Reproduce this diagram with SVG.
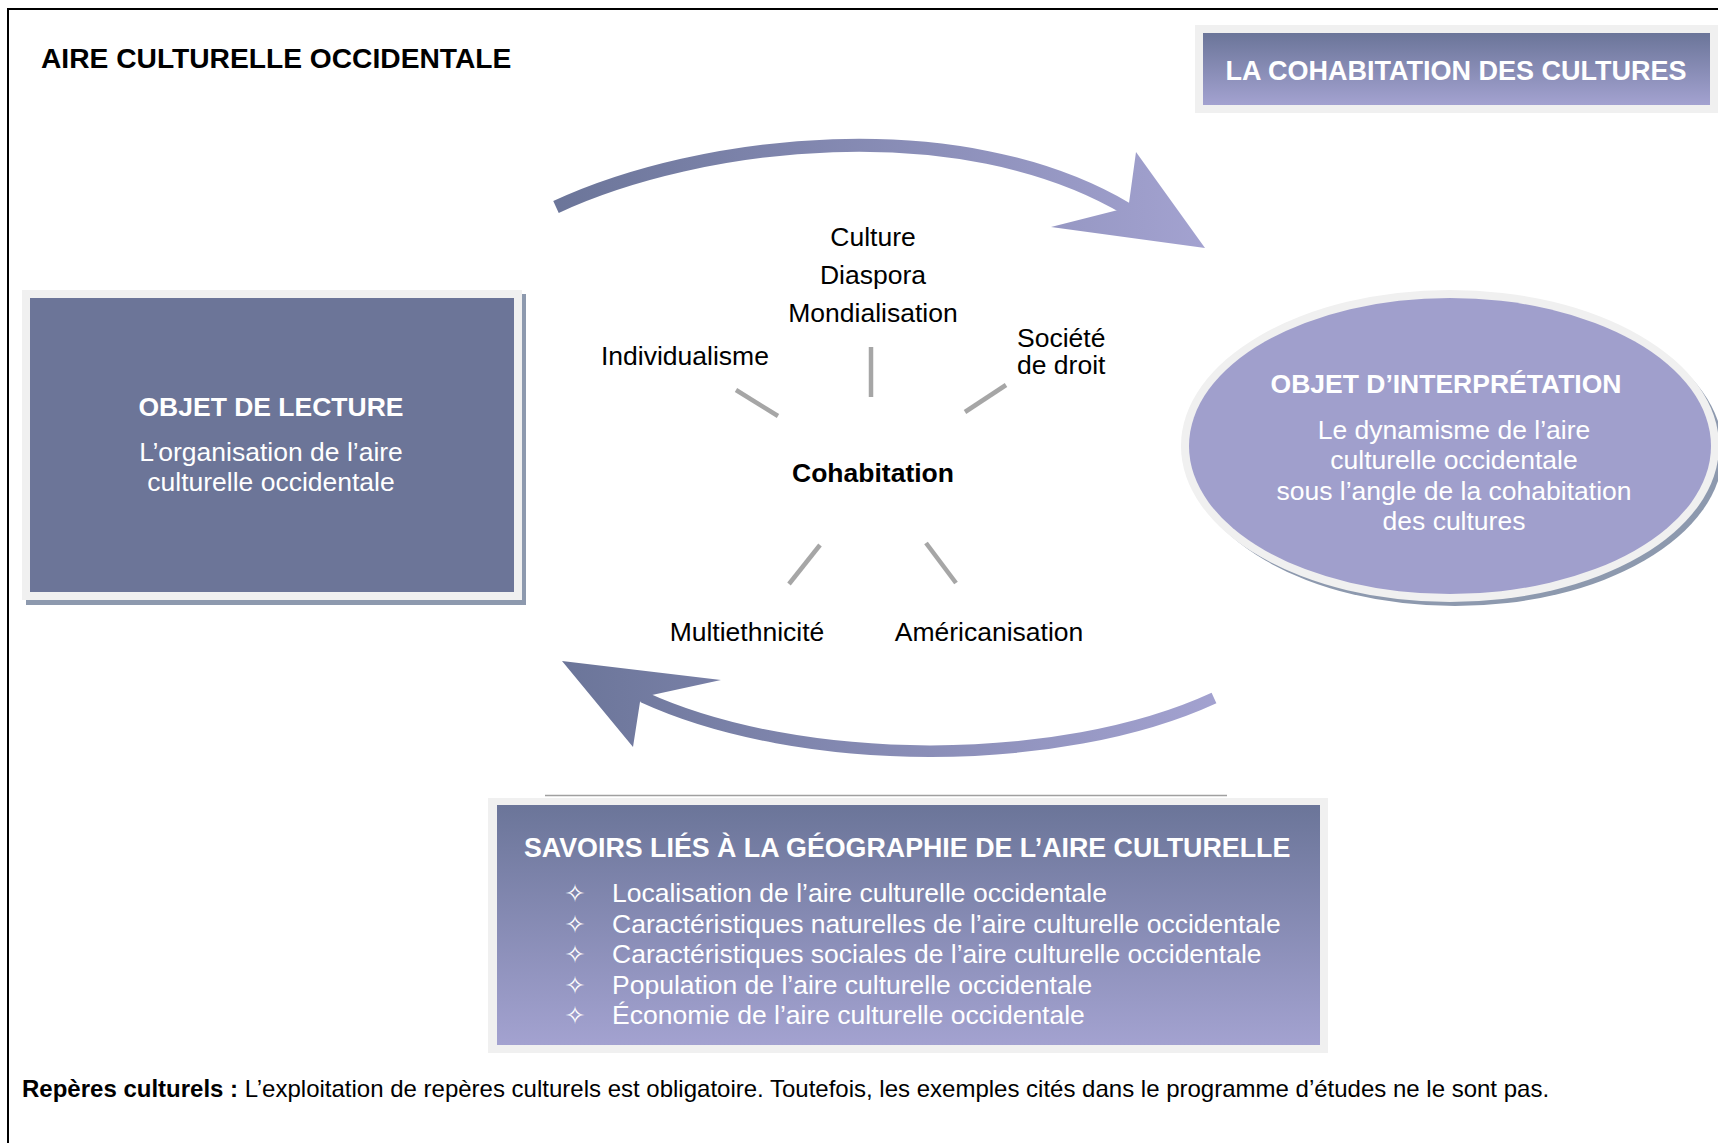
<svg xmlns="http://www.w3.org/2000/svg" width="1718" height="1143" viewBox="0 0 1718 1143">
<style>
text{font-family:"Liberation Sans",Arial,sans-serif;}
.t{font-size:28.2px;font-weight:bold;fill:#000;}
.hw{font-size:26.5px;font-weight:bold;fill:#fff;}
.bw{font-size:26.5px;fill:#fff;}
.kw{font-size:26.5px;fill:#000;}
.kb{font-size:26.5px;font-weight:bold;fill:#000;}
.spoke{stroke:#a6a6a6;stroke-width:4.5;fill:none;}
.frame{fill:#f0f0f0;}
.star{font-family:"DejaVu Sans",sans-serif;font-size:25px;fill:#fff;}
.foot{font-size:24px;fill:#000;}
</style>
<defs>
<linearGradient id="gv" x1="0" y1="0" x2="0" y2="1">
<stop offset="0" stop-color="#6b7599"/>
<stop offset="1" stop-color="#a3a2d0"/>
</linearGradient>
<linearGradient id="gTop" gradientUnits="userSpaceOnUse" x1="550" y1="0" x2="1205" y2="0">
<stop offset="0" stop-color="#6b7599"/>
<stop offset="1" stop-color="#a3a2d0"/>
</linearGradient>
<linearGradient id="gBot" gradientUnits="userSpaceOnUse" x1="560" y1="0" x2="1220" y2="0">
<stop offset="0" stop-color="#6b7599"/>
<stop offset="1" stop-color="#a3a2d0"/>
</linearGradient>
</defs>
<rect width="1718" height="1143" fill="#fff"/>
<path d="M8,1143 V9 H1718" fill="none" stroke="#000" stroke-width="2"/>

<g id="title">
<text class="t" x="41" y="68">AIRE CULTURELLE OCCIDENTALE</text>
</g>

<g id="node-cohabitation-cultures">
<rect class="frame" x="1195" y="25" width="523" height="88"/>
<rect x="1203" y="33" width="507" height="72" fill="url(#gv)"/>
<text class="hw" x="1456" y="80" text-anchor="middle" style="font-size:27px">LA COHABITATION DES CULTURES</text>
</g>

<g id="node-objet-lecture">
<rect x="26" y="294" width="500" height="311" fill="#8d99ae"/>
<rect class="frame" x="22" y="290" width="500" height="310"/>
<rect x="30" y="298" width="484" height="294" fill="#6c7598"/>
<text class="hw" x="271" y="416" text-anchor="middle">OBJET DE LECTURE</text>
<text class="bw" x="271" y="461" text-anchor="middle">L’organisation de l’aire</text>
<text class="bw" x="271" y="491" text-anchor="middle">culturelle occidentale</text>
</g>

<g id="node-objet-interpretation">
<ellipse cx="1455" cy="451" rx="268" ry="155" fill="#8d99ae"/>
<ellipse cx="1450" cy="446" rx="269" ry="156" fill="#f0f0f0"/>
<ellipse cx="1450" cy="446" rx="261" ry="148" fill="#a09fcc"/>
<text class="hw" x="1446" y="393" text-anchor="middle">OBJET D’INTERPRÉTATION</text>
<text class="bw" x="1454" y="439" text-anchor="middle">Le dynamisme de l’aire</text>
<text class="bw" x="1454" y="469" text-anchor="middle">culturelle occidentale</text>
<text class="bw" x="1454" y="500" text-anchor="middle">sous l’angle de la cohabitation</text>
<text class="bw" x="1454" y="530" text-anchor="middle">des cultures</text>
</g>

<g id="node-cohabitation">
<text class="kb" x="873" y="482" text-anchor="middle">Cohabitation</text>
</g>
<g id="node-culture-diaspora-mondialisation">
<text class="kw" x="873" y="246" text-anchor="middle">Culture</text>
<text class="kw" x="873" y="284" text-anchor="middle">Diaspora</text>
<text class="kw" x="873" y="322" text-anchor="middle">Mondialisation</text>
</g>
<g id="node-individualisme">
<text class="kw" x="601" y="365">Individualisme</text>
</g>
<g id="node-societe-de-droit">
<text class="kw" x="1017" y="347">Société</text>
<text class="kw" x="1017" y="374">de droit</text>
</g>
<g id="node-multiethnicite">
<text class="kw" x="747" y="641" text-anchor="middle">Multiethnicité</text>
</g>
<g id="node-americanisation">
<text class="kw" x="989" y="641" text-anchor="middle">Américanisation</text>
</g>

<g id="connectors">
<line class="spoke" x1="871" y1="347" x2="871" y2="397"/>
<line class="spoke" x1="736" y1="390" x2="778" y2="416"/>
<line class="spoke" x1="1006" y1="385" x2="965" y2="412"/>
<line class="spoke" x1="820" y1="545" x2="789" y2="584"/>
<line class="spoke" x1="926" y1="543" x2="956" y2="583"/>
<path d="M556,207 C700,140 960,110 1127,209" fill="none" stroke="url(#gTop)" stroke-width="13"/>
<polygon points="1205,248 1136,152 1129,203 1118,210 1051,227" fill="url(#gTop)"/>
<path d="M1214,698 C1060,769 800,769 643,697" fill="none" stroke="url(#gBot)" stroke-width="11.5"/>
<polygon points="562,661 721,680 652,695 640,702 633,747" fill="url(#gBot)"/>
</g>

<g id="node-savoirs">
<line x1="545" y1="795.5" x2="1227" y2="795.5" stroke="#a0a0a0" stroke-width="1.5"/>
<rect class="frame" x="488" y="798" width="840" height="255"/>
<rect x="497" y="805" width="823" height="240" fill="url(#gv)"/>
<text class="hw" x="524" y="857" style="font-size:26.8px">SAVOIRS LIÉS À LA GÉOGRAPHIE DE L’AIRE CULTURELLE</text>
<text class="star" x="575" y="902" text-anchor="middle">✧</text>
<text class="star" x="575" y="933" text-anchor="middle">✧</text>
<text class="star" x="575" y="963" text-anchor="middle">✧</text>
<text class="star" x="575" y="994" text-anchor="middle">✧</text>
<text class="star" x="575" y="1024" text-anchor="middle">✧</text>
<text class="bw" x="612" y="902">Localisation de l’aire culturelle occidentale</text>
<text class="bw" x="612" y="933">Caractéristiques naturelles de l’aire culturelle occidentale</text>
<text class="bw" x="612" y="963">Caractéristiques sociales de l’aire culturelle occidentale</text>
<text class="bw" x="612" y="994">Population de l’aire culturelle occidentale</text>
<text class="bw" x="612" y="1024">Économie de l’aire culturelle occidentale</text>
</g>

<g id="footer">
<text class="foot" x="22" y="1097"><tspan font-weight="bold">Repères culturels :</tspan> L’exploitation de repères culturels est obligatoire. Toutefois, les exemples cités dans le programme d’études ne le sont pas.</text>
</g>
</svg>
